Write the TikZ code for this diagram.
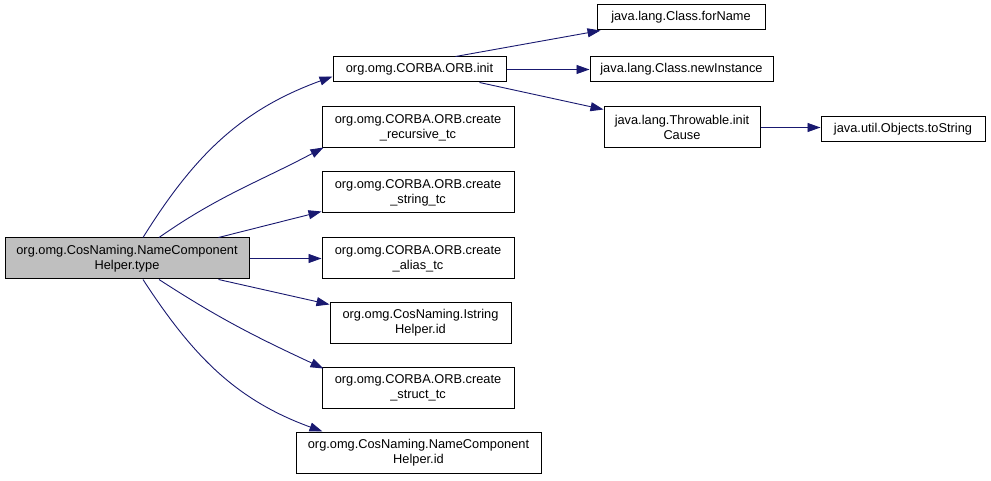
\documentclass[tikz,border=0pt]{standalone}
\usepackage{fontspec}
\setmainfont{Liberation Sans}
\usetikzlibrary{arrows.meta,calc}
\definecolor{edgeblue}{HTML}{191970}
\definecolor{focusgray}{HTML}{BFBFBF}
\tikzset{
  fn/.style={draw=black, line width=1pt, fill=white, inner sep=0pt, align=center,
    font=\fontsize{12.8}{15}\selectfont},
  focus/.style={fn, fill=focusgray},
  call/.style={draw=edgeblue, line width=0.9pt,
    -{Triangle[length=13pt,width=9pt,fill=edgeblue]}},
}
\begin{document}
\begin{tikzpicture}[x=1pt,y=-1pt]
\useasboundingbox (0,0) rectangle (991,481);
% caller
\node[focus, minimum width=244, minimum height=41] (main) at (127,258.5)
  {org.omg.CosNaming.NameComponent\\Helper.type};
% direct callees
\node[fn, minimum width=173, minimum height=25] (init) at (419.5,69.5) {org.omg.CORBA.ORB.init};
\node[fn, minimum width=192, minimum height=41] (rec) at (418,127.5) {org.omg.CORBA.ORB.create\\\_recursive\_tc};
\node[fn, minimum width=192, minimum height=41] (str) at (418,192.5) {org.omg.CORBA.ORB.create\\\_string\_tc};
\node[fn, minimum width=192, minimum height=41] (alias) at (418,258.5) {org.omg.CORBA.ORB.create\\\_alias\_tc};
\node[fn, minimum width=181, minimum height=41] (istr) at (420.5,322.5) {org.omg.CosNaming.Istring\\Helper.id};
\node[fn, minimum width=192, minimum height=41] (struct) at (418,387.5) {org.omg.CORBA.ORB.create\\\_struct\_tc};
\node[fn, minimum width=245, minimum height=41] (ncid) at (418.5,452.5) {org.omg.CosNaming.NameComponent\\Helper.id};
% callees of ORB.init
\node[fn, minimum width=168, minimum height=25] (forname) at (681,17.5) {java.lang.Class.forName};
\node[fn, minimum width=183, minimum height=25] (newinst) at (681.5,69.5) {java.lang.Class.newInstance};
\node[fn, minimum width=156, minimum height=41] (cause) at (682,127.5) {java.lang.Throwable.init\\Cause};
\node[fn, minimum width=164, minimum height=25] (tostr) at (903,129.5) {java.util.Objects.toString};
% call edges
\draw[call] ($(main.north)+(16,0)$) to[out=58,in=200] ($(init.south west)+(0,-6)$);
\draw[call] ($(main.north)+(32,0)$) to[out=35,in=208] ($(rec.south west)+(2,-1)$);
\draw[call] ($(main.north east)+(-31,0)$) -- ($(str.south west)+(0,-2)$);
\draw[call] (main.east) -- (alias.west);
\draw[call] ($(main.south east)+(-31,0)$) -- ($(istr.north west)+(0,3)$);
\draw[call] ($(main.south)+(32,0)$) to[out=-33,in=155] ($(struct.north west)+(2,2)$);
\draw[call] ($(main.south)+(16,0)$) to[out=-57,in=160] ($(ncid.north west)+(27,0)$);
\draw[call] ($(init.north)+(36,0)$) -- ($(forname.south west)+(4,0)$);
\draw[call] (init.east) -- (newinst.west);
\draw[call] ($(init.south)+(60,0)$) -- ($(cause.north west)+(0,3)$);
\draw[call] (cause.east) -- (cause.east -| tostr.west);
\end{tikzpicture}
\end{document}
